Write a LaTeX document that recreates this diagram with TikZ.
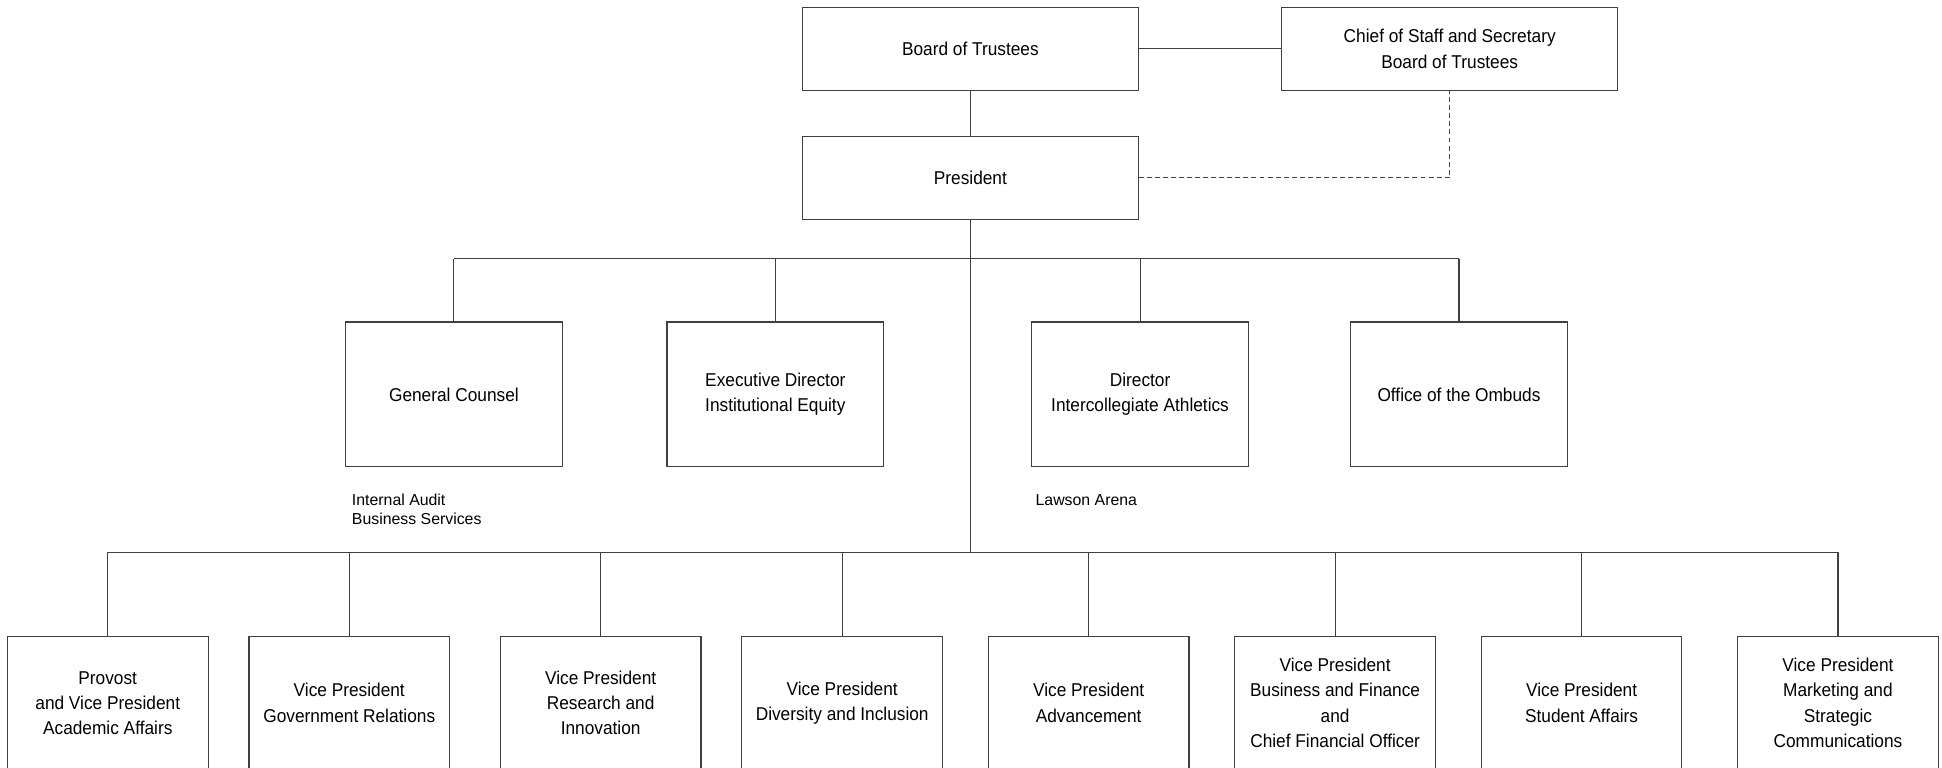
\documentclass[tikz,border=0pt]{standalone}
\usepackage{fontspec}
\setmainfont{Liberation Sans}[FakeStretch=0.93]
\newfontfamily\notefont{Liberation Sans}
\tikzset{
    orgline/.style={draw=black!75,line width=0.9pt},
    unitbox/.style={orgline,rectangle,inner sep=0pt,align=center,
        font=\fontsize{15}{20.3}\selectfont},
    topbox/.style={unitbox,minimum width=271pt,minimum height=67pt},
    midbox/.style={unitbox,minimum width=175pt,minimum height=117pt},
    vpbox/.style={unitbox,minimum width=162pt,minimum height=107pt},
    notetext/.style={inner sep=0pt,align=left,anchor=west,
        font=\notefont\fontsize{12.8}{15.4}\selectfont}
}
\begin{document}
\begin{tikzpicture}[x=1pt,y=-1pt]
            \useasboundingbox (0,0) rectangle (1568,620);
            \clip (0,0) rectangle (1568,620);
            \node[topbox] (bot) at (783.5,39.5) {Board of Trustees};
            \node[topbox] (cos) at (1170.5,39.5) {Chief of Staff and Secretary\\Board of Trustees};
            \node[topbox] (pres) at (783.5,143.5) {President};
            \node[midbox] (gc) at (366.5,318.5) {General Counsel};
            \node[midbox] (equity) at (626,318.5) {Executive Director\\Institutional Equity};
            \node[midbox] (athl) at (920.5,318.5) {Director\\Intercollegiate Athletics};
            \node[midbox] (ombuds) at (1178,318.5) {Office of the Ombuds};
            \node[notetext] (audit) at (284,411.5) {Internal Audit\\Business Services};
            \node[notetext] (arena) at (836,404) {Lawson Arena};
            \node[vpbox] (provost) at (87,567.5) {Provost\\and Vice President\\Academic Affairs};
            \node[vpbox] (govrel) at (282,567.5) {Vice President\\Government Relations};
            \node[vpbox] (research) at (485,567.5) {Vice President\\Research and\\Innovation};
            \node[vpbox] (diversity) at (680,567.5) {Vice President\\Diversity and Inclusion};
            \node[vpbox] (advance) at (879,567.5) {Vice President\\Advancement};
            \node[vpbox] (finance) at (1078,567.5) {Vice President\\Business and Finance\\and\\Chief Financial Officer};
            \node[vpbox] (students) at (1277,567.5) {Vice President\\Student Affairs};
            \node[vpbox] (marketing) at (1484,567.5) {Vice President\\Marketing and\\Strategic\\Communications};
            \coordinate (busA) at (783.5,209);
            \coordinate (busB) at (783.5,446);
            \draw[orgline] (bot.east) -- (cos.west);
            \draw[orgline] (bot.south) -- (pres.north);
            \draw[orgline,dash pattern=on 4pt off 2.5pt] (pres.east) -| (cos.south);
            \draw[orgline] (pres.south) -- (busB);
            \draw[orgline] (gc.north |- busA) -- (ombuds.north |- busA);
            \draw[orgline] (provost.north |- busB) -- (marketing.north |- busB);
            \foreach \unit in {gc,equity,athl,ombuds}
                \draw[orgline] (\unit.north) -- (\unit.north |- busA);
            \foreach \unit in {provost,govrel,research,diversity,advance,finance,students,marketing}
                \draw[orgline] (\unit.north) -- (\unit.north |- busB);
        \end{tikzpicture}
\end{document}
